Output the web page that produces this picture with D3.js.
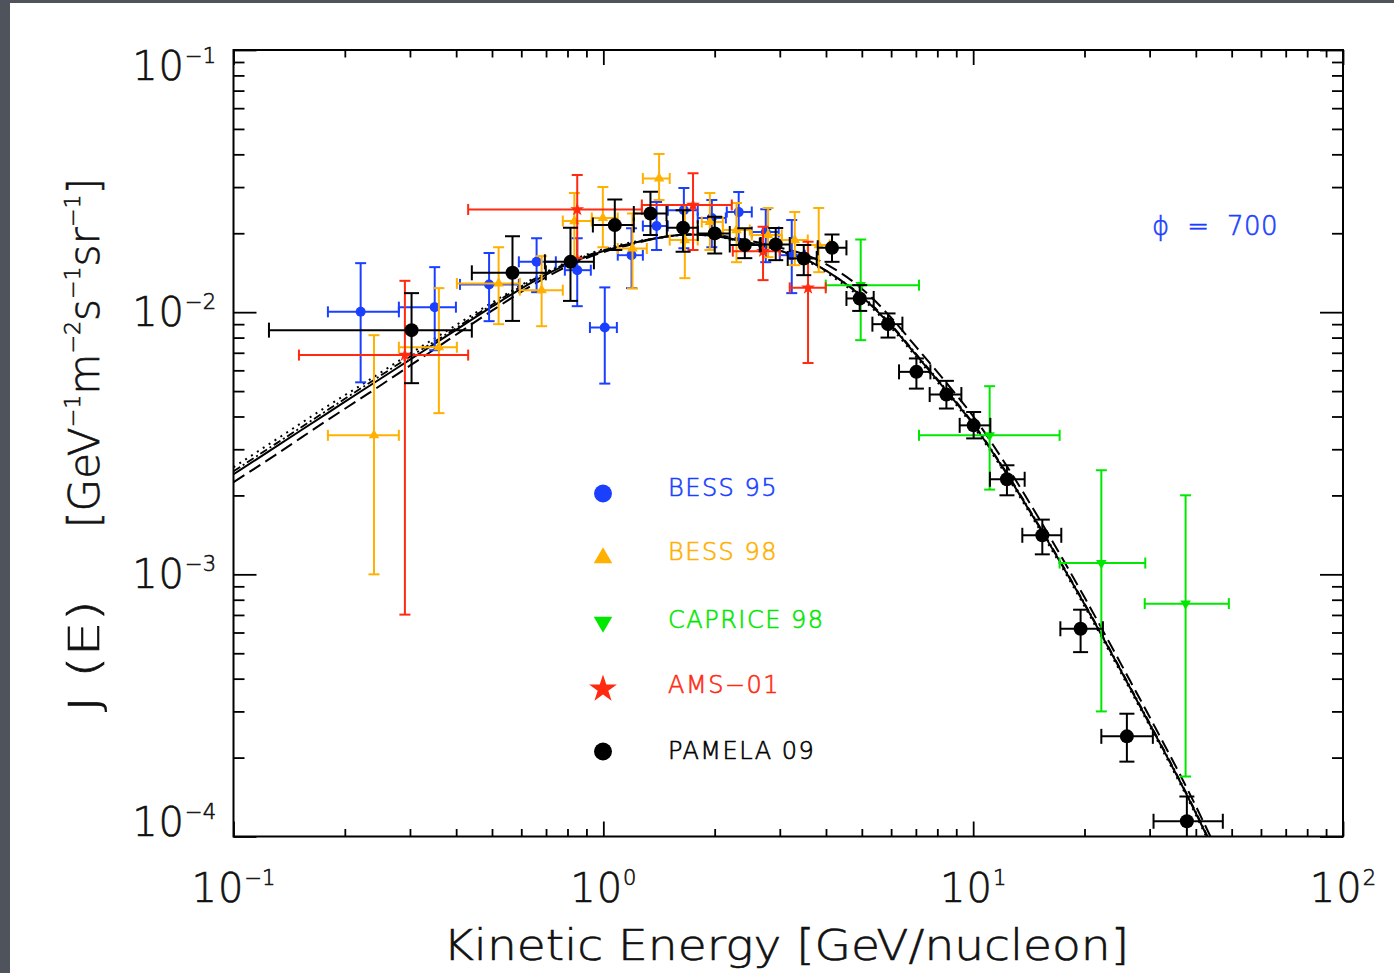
<!DOCTYPE html>
<html><head><meta charset="utf-8">
<script src="https://cdn.jsdelivr.net/npm/d3@7"></script>
<style>html,body{margin:0;padding:0;background:#fff;} svg{display:block;} text{font-family:"DejaVu Sans","Liberation Sans",sans-serif;font-weight:200;}</style>
</head><body><svg id="c" width="1394" height="973"></svg>
<script>
// ---------------- DATA ----------------
// rows: [E, Emin, Emax, J, Jmin, Jmax]
const bess95 = [
  [0.2207, 0.18, 0.280, 0.01003, 0.0054, 0.01538],
  [0.350, 0.280, 0.3994, 0.01045, 0.00716, 0.01485],
  [0.491, 0.4096, 0.591, 0.01276, 0.00924, 0.0168],
  [0.66, 0.591, 0.744, 0.01556, 0.01192, 0.01916],
  [0.85, 0.787, 0.925, 0.01446, 0.01054, 0.01916],
  [1.009, 0.920, 1.088, 0.00874, 0.00534, 0.01243],
  [1.192, 1.094, 1.279, 0.0165, 0.01235, 0.0209],
  [1.393, 1.279, 1.494, 0.0213, 0.01726, 0.0263],
  [1.651, 1.494, 1.800, 0.0245, 0.01755, 0.02974],
  [1.965, 1.800, 2.144, 0.02285, 0.0177, 0.02676],
  [2.323, 2.157, 2.52, 0.02408, 0.01802, 0.02871],
  [2.749, 2.52, 2.98, 0.0202, 0.01551, 0.02471],
  [3.232, 3.0, 3.504, 0.0165, 0.01182, 0.02245]
];
const bess98 = [
  [0.2398, 0.18, 0.280, 0.00339, 0.001, 0.00817],
  [0.3592, 0.280, 0.4018, 0.00735, 0.00412, 0.01235],
  [0.521, 0.4018, 0.5946, 0.01287, 0.009, 0.0177],
  [0.681, 0.5946, 0.777, 0.01213, 0.00884, 0.01636],
  [0.835, 0.777, 0.931, 0.02225, 0.0163, 0.02845],
  [0.997, 0.931, 1.094, 0.02285, 0.0177, 0.030],
  [1.199, 1.094, 1.311, 0.0175, 0.01232, 0.0238],
  [1.415, 1.279, 1.512, 0.03237, 0.02676, 0.0401],
  [1.661, 1.512, 1.80, 0.01883, 0.01348, 0.02561],
  [1.941, 1.846, 2.104, 0.02206, 0.01726, 0.02845],
  [2.291, 2.104, 2.489, 0.02056, 0.01551, 0.02606],
  [2.789, 2.52, 3.037, 0.01968, 0.01621, 0.02494],
  [3.293, 3.037, 3.571, 0.01883, 0.01511, 0.02408],
  [3.823, 3.571, 4.094, 0.01802, 0.01421, 0.02494]
];
const caprice98 = [
  [4.965, 3.994, 7.137, 0.01268, 0.00782, 0.01895],
  [11.08, 7.137, 17.13, 0.00339, 0.002105, 0.00522],
  [22.21, 17.13, 29.2, 0.001104, 0.0003, 0.002495],
  [37.53, 29.1, 49.13, 0.000773, 0.0001694, 0.002002]
];
const ams01 = [
  [0.2907, 0.1503, 0.431, 0.00686, 0.000702, 0.01317],
  [0.85, 0.431, 1.271, 0.02466, 0.01607, 0.03333],
  [1.748, 1.271, 2.225, 0.02561, 0.01726, 0.0339],
  [2.703, 2.239, 3.0, 0.01709, 0.01325, 0.02116],
  [3.577, 3.192, 3.994, 0.01238, 0.0064, 0.01855]
];
const pamela09 = [
  [0.303, 0.1247, 0.441, 0.00854, 0.00536, 0.01182],
  [0.568, 0.441, 0.699, 0.01413, 0.00926, 0.0195],
  [0.815, 0.695, 0.943, 0.01556, 0.01104, 0.0210],
  [1.074, 0.937, 1.209, 0.02148, 0.01726, 0.0269],
  [1.341, 1.209, 1.482, 0.0238, 0.01968, 0.02878],
  [1.643, 1.485, 1.800, 0.0210, 0.01699, 0.0245],
  [2.001, 1.800, 2.197, 0.01997, 0.01675, 0.0231],
  [2.413, 2.197, 2.649, 0.01802, 0.01607, 0.0209],
  [2.925, 2.665, 3.192, 0.01813, 0.01579, 0.02093],
  [3.483, 3.152, 3.776, 0.01603, 0.01384, 0.01802],
  [4.153, 3.800, 4.543, 0.01759, 0.01556, 0.01979],
  [4.934, 4.543, 5.383, 0.01128, 0.01011, 0.01268],
  [5.886, 5.340, 6.437, 0.0090, 0.0080, 0.00989],
  [7.023, 6.303, 7.662, 0.00592, 0.00511, 0.00666],
  [8.465, 7.628, 9.292, 0.00485, 0.00429, 0.00547],
  [10.03, 9.195, 11.13, 0.0037, 0.0033, 0.00416],
  [12.34, 11.10, 13.78, 0.002305, 0.002002, 0.002606],
  [15.38, 13.58, 17.31, 0.001409, 0.001192, 0.001617],
  [19.52, 17.21, 22.43, 0.00062, 0.000505, 0.000733],
  [26.04, 22.21, 30.61, 0.000241, 0.000193, 0.000294],
  [37.83, 30.74, 47.32, 0.0001144, 0.000092, 0.000142]
];

// model curves (modulated spectra)
const modelE = [0.1, 0.13, 0.18, 0.23, 0.3, 0.38, 0.5, 0.65, 0.8, 1.0, 1.2, 1.4, 1.7, 2.0, 2.4, 3.0, 3.6, 4.2, 5.0, 6.0, 7.0, 8.5, 10, 12, 15, 20, 26, 32, 38, 45, 50];
const modelSolid = [0.002408, 0.0030636, 0.004131, 0.005173, 0.006588, 0.008169, 0.010495, 0.013131, 0.015245, 0.017093, 0.01834, 0.019164, 0.019763, 0.019505, 0.018583, 0.017168, 0.015652, 0.013783, 0.011459, 0.00888, 0.006883, 0.004972, 0.0037372, 0.0025605, 0.0015381, 0.0007683, 0.00039047, 0.00022642, 0.00014213, 0.00008688, 0.00006331];
const modelDotted = [0.002561, 0.003258, 0.004393, 0.005453, 0.006944, 0.008536, 0.010871, 0.013482, 0.015515, 0.017396, 0.018501, 0.019164, 0.019763, 0.019505, 0.01842, 0.017017, 0.015514, 0.013543, 0.01126, 0.008725, 0.006763, 0.004885, 0.003672, 0.002516, 0.001511, 0.000755, 0.0003837, 0.0002225, 0.0001397, 0.00008537, 0.00006221];
const modelDashDot = [0.002472, 0.003145, 0.004241, 0.005311, 0.006764, 0.008314, 0.010681, 0.013363, 0.015379, 0.017243, 0.01834, 0.019164, 0.019763, 0.019505, 0.018583, 0.017168, 0.015652, 0.013783, 0.01156, 0.008958, 0.006944, 0.005016, 0.00377, 0.002583, 0.001552, 0.000775, 0.0003939, 0.0002284, 0.0001434, 0.00008764, 0.00006387];
const modelLongDash = [0.002245, 0.002856, 0.003885, 0.004865, 0.00625, 0.007818, 0.010133, 0.01279, 0.01498, 0.016943, 0.018179, 0.019164, 0.019763, 0.019677, 0.018912, 0.017626, 0.016355, 0.014657, 0.012293, 0.009526, 0.007384, 0.005334, 0.004009, 0.002747, 0.00165, 0.000817, 0.0004152, 0.0002408, 0.0001511, 0.00009239, 0.00006732];

const xMajor = [0.1, 1, 10, 100];
const xMajorLabels = ["\u22121", "0", "1", "2"];
const yMajor = [1e-1, 1e-2, 1e-3, 1e-4];
const yMajorLabels = ["\u22121", "\u22122", "\u22123", "\u22124"];
const legendNames = ["BESS 95", "BESS 98", "CAPRICE 98", "AMS\u221201", "PAMELA 09"];
const phiLabel = "\u03D5 = 700";

// ---------------- LAYOUT ----------------
const C = {blue: "#1a3fff", orange: "#ffb000", green: "#00e800", red: "#ff2a10", black: "#000"};
const L = 233.5, R = 1343, T = 50, B = 836.5;
const svg = d3.select("#c");
svg.append("rect").attr("width", 1394).attr("height", 973).attr("fill", "#4f545c");
svg.append("rect").attr("x", 10).attr("y", 3).attr("width", 1384).attr("height", 970).attr("fill", "#fff");

const x = d3.scaleLog().domain([0.1, 100]).range([L, R]);
const y = d3.scaleLog().domain([1e-4, 1e-1]).range([B, T]);

svg.append("defs").append("clipPath").attr("id", "clip")
  .append("rect").attr("x", L).attr("y", T).attr("width", R - L).attr("height", B - T);

const plot = svg.append("g").attr("clip-path", "url(#clip)");

// model curves
const line = d3.line().x((d, i) => x(modelE[i])).y(d => y(d)).curve(d3.curveMonotoneX);
[[modelDotted, "2,5", 2], [modelDashDot, "8,3,2,3", 1.8], [modelLongDash, "13,6", 2], [modelSolid, null, 2]].forEach(([arr, dash, w]) => {
  plot.append("path").datum(arr).attr("d", line).attr("fill", "none").attr("stroke", "#000")
    .attr("stroke-width", w).attr("stroke-dasharray", dash);
});

function drawSet(rows, color, sym, capW, sw) {
  const g = plot.append("g").attr("stroke", color).attr("stroke-width", sw).attr("fill", "none");
  const pts = g.selectAll("g.pt").data(rows).join("g").attr("class", "pt");
  pts.append("line").attr("x1", d => x(d[1])).attr("x2", d => x(d[2])).attr("y1", d => y(d[3])).attr("y2", d => y(d[3]));
  pts.append("line").attr("x1", d => x(d[1])).attr("x2", d => x(d[1])).attr("y1", d => y(d[3]) - capW / 2).attr("y2", d => y(d[3]) + capW / 2);
  pts.append("line").attr("x1", d => x(d[2])).attr("x2", d => x(d[2])).attr("y1", d => y(d[3]) - capW / 2).attr("y2", d => y(d[3]) + capW / 2);
  pts.append("line").attr("x1", d => x(d[0])).attr("x2", d => x(d[0])).attr("y1", d => y(d[4])).attr("y2", d => y(d[5]));
  pts.append("line").attr("x1", d => x(d[0]) - capW / 2).attr("x2", d => x(d[0]) + capW / 2).attr("y1", d => y(d[4])).attr("y2", d => y(d[4]));
  pts.append("line").attr("x1", d => x(d[0]) - capW / 2).attr("x2", d => x(d[0]) + capW / 2).attr("y1", d => y(d[5])).attr("y2", d => y(d[5]));
  pts.append("path").attr("d", sym.path).attr("transform", d => `translate(${x(d[0])},${y(d[3])})${sym.rot ? " rotate(180)" : ""}`)
    .attr("fill", color).attr("stroke", "none");
}
const symCircleS = {path: d3.symbol(d3.symbolCircle, Math.PI * 25)()};
const symTri = {path: d3.symbol(d3.symbolTriangle, 48)()};
const symTriDown = {path: d3.symbol(d3.symbolTriangle, 48)(), rot: true};
const symStar = {path: d3.symbol(d3.symbolStar, 60)()};
const symCircleL = {path: d3.symbol(d3.symbolCircle, Math.PI * 49)()};

drawSet(bess95, C.blue, symCircleS, 11, 2);
drawSet(bess98, C.orange, symTri, 11, 2);
drawSet(caprice98, C.green, symTriDown, 11, 2);
drawSet(ams01, C.red, symStar, 11, 2);
drawSet(pamela09, C.black, symCircleL, 15, 2);

// ---------------- AXES ----------------
function minors(lo, hi) {
  const out = [];
  for (let e = lo; e < hi; e++) for (let m = 2; m <= 9; m++) out.push(m * Math.pow(10, e));
  return out;
}
const xMin = minors(-1, 2), yMin = minors(-4, -1);
const axG = svg.append("g").attr("class", "axes");
function ax(gen, tr, vals, size) {
  const g = axG.append("g").attr("transform", tr)
    .call(gen.tickValues(vals).tickSize(size).tickFormat(""));
  g.select(".domain").remove();
  g.selectAll(".tick line").attr("stroke", "#000").attr("stroke-width", 1.8);
}
ax(d3.axisBottom(x), `translate(0,${B})`, xMajor, -15);
ax(d3.axisBottom(x), `translate(0,${B})`, xMin, -7.5);
ax(d3.axisTop(x), `translate(0,${T})`, xMajor, -15);
ax(d3.axisTop(x), `translate(0,${T})`, xMin, -7.5);
ax(d3.axisLeft(y), `translate(${L},0)`, yMajor, -23);
ax(d3.axisLeft(y), `translate(${L},0)`, yMin, -11);
ax(d3.axisRight(y), `translate(${R},0)`, yMajor, -23);
ax(d3.axisRight(y), `translate(${R},0)`, yMin, -11);
svg.append("rect").attr("x", L).attr("y", T).attr("width", R - L).attr("height", B - T)
  .attr("fill", "none").attr("stroke", "#000").attr("stroke-width", 2);

// tick labels
function pow10(t, exp) {
  t.append("tspan").attr("letter-spacing", 1).text("10");
  t.append("tspan").attr("dy", -17).attr("font-size", 21).text(exp);
}
xMajor.forEach((v, i) => {
  const t = svg.append("text").attr("x", x(v)).attr("y", 902).attr("text-anchor", "middle")
    .attr("font-size", 40).attr("fill", "#111").attr("stroke", "#111").attr("stroke-width", 0.6);
  pow10(t, xMajorLabels[i]);
});
yMajor.forEach((v, i) => {
  const cy = Math.min(Math.max(y(v), T + 16), B - 15);
  const t = svg.append("text").attr("x", 216).attr("y", cy + 14).attr("text-anchor", "end")
    .attr("font-size", 40).attr("fill", "#111").attr("stroke", "#111").attr("stroke-width", 0.6);
  pow10(t, yMajorLabels[i]);
});

// axis titles
svg.append("text").attr("x", 786).attr("y", 960).attr("text-anchor", "middle")
  .attr("font-size", 42).attr("fill", "#111").attr("stroke", "#111").attr("stroke-width", 0.6)
  .attr("textLength", 686).attr("lengthAdjust", "spacingAndGlyphs")
  .text("Kinetic Energy [GeV/nucleon]");

svg.append("text").attr("transform", "translate(99,656) rotate(-90)").attr("text-anchor", "middle")
  .attr("font-size", 42).attr("fill", "#111").attr("stroke", "#111").attr("stroke-width", 0.6)
  .attr("textLength", 112).attr("lengthAdjust", "spacingAndGlyphs")
  .text("J (E)");
const yt2 = svg.append("text").attr("transform", "translate(99,353) rotate(-90)").attr("text-anchor", "middle")
  .attr("font-size", 42).attr("fill", "#111").attr("stroke", "#111").attr("stroke-width", 0.6)
  .attr("textLength", 350).attr("lengthAdjust", "spacingAndGlyphs");
[["[GeV", 0], ["\u22121", 1], ["m", -1], ["\u22122", 1], ["s", -1], ["\u22121", 1], ["sr", -1], ["\u22121", 1], ["]", -1]].forEach(([s, sup]) => {
  const ts = yt2.append("tspan").text(s);
  if (sup === 1) ts.attr("dy", -19).attr("font-size", 22);
  else if (sup === -1) ts.attr("dy", 19);
});

// legend
const legColors = [C.blue, C.orange, C.green, C.red, C.black];
const legSyms = [
  d3.symbol(d3.symbolCircle, Math.PI * 81)(),
  d3.symbol(d3.symbolTriangle, 150)(),
  d3.symbol(d3.symbolTriangle, 150)(),
  d3.symbol(d3.symbolStar, 240)(),
  d3.symbol(d3.symbolCircle, Math.PI * 81)()
];
const legY = [493.5, 558, 622, 689, 751.5];
legendNames.forEach((n, i) => {
  svg.append("path").attr("d", legSyms[i]).attr("fill", legColors[i])
    .attr("transform", `translate(603,${legY[i]})${i === 2 ? " rotate(180)" : ""}`);
  svg.append("text").attr("x", 668).attr("y", legY[i] + 2 + (i === 2 ? 4 : 0) + (i === 3 ? 2 : 0) + (i === 4 ? 5 : 0))
    .attr("font-size", 24).attr("letter-spacing", 1.5).attr("fill", legColors[i])
    .attr("stroke", legColors[i]).attr("stroke-width", 0.6).text(n);
});

svg.append("text").attr("x", 1152).attr("y", 235).attr("font-size", 26).attr("letter-spacing", 0.5).attr("fill", C.blue)
  .attr("stroke", C.blue).attr("stroke-width", 0.6)
  .style("white-space", "pre").text(phiLabel.replace(" = ", "  =  "));
</script></body></html>
